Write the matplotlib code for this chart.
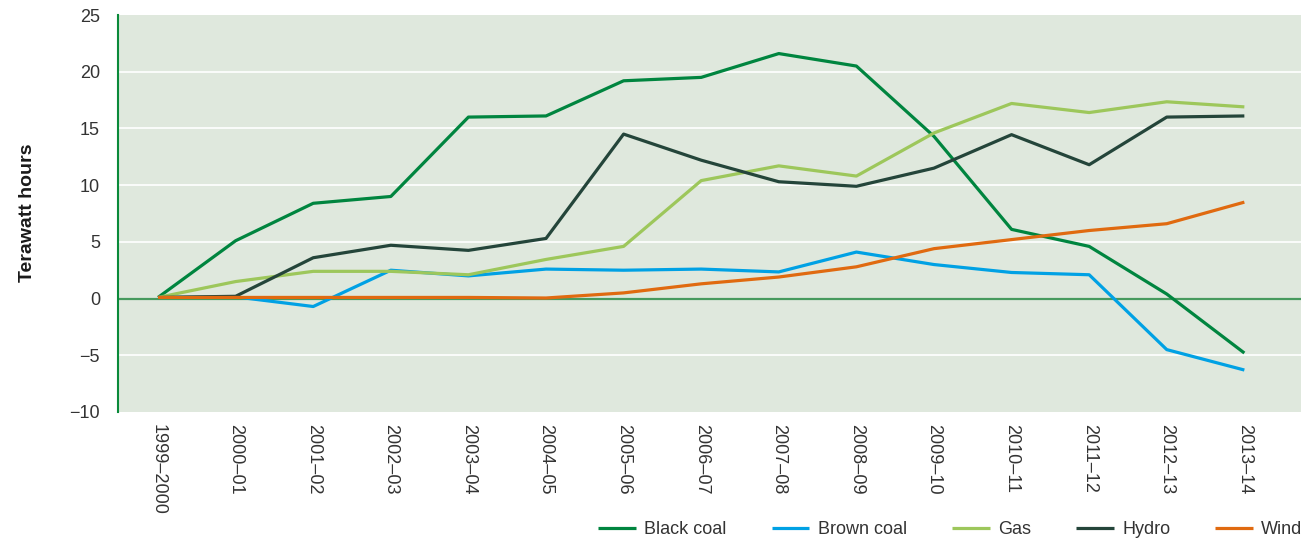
import matplotlib
matplotlib.use("Agg")
import matplotlib.pyplot as plt

years = ["1999–2000", "2000–01", "2001–02", "2002–03", "2003–04", "2004–05",
         "2005–06", "2006–07", "2007–08", "2008–09", "2009–10", "2010–11",
         "2011–12", "2012–13", "2013–14"]
black_coal = [0.1, 5.1, 8.4, 9.0, 16.0, 16.1, 19.2, 19.5, 21.6, 20.5, 14.3, 6.1, 4.6, 0.4, -4.8]
brown_coal = [0.1, 0.15, -0.7, 2.5, 2.0, 2.6, 2.5, 2.6, 2.35, 4.1, 3.0, 2.3, 2.1, -4.5, -6.3]
gas = [0.1, 1.5, 2.4, 2.4, 2.1, 3.45, 4.6, 10.4, 11.7, 10.8, 14.6, 17.2, 16.4, 17.35, 16.9]
hydro = [0.1, 0.2, 3.6, 4.7, 4.25, 5.3, 14.5, 12.2, 10.3, 9.9, 11.5, 14.45, 11.8, 16.0, 16.1]
wind = [0.1, 0.1, 0.1, 0.1, 0.1, 0.05, 0.5, 1.3, 1.9, 2.8, 4.4, 5.2, 6.0, 6.6, 8.5]
y_ticks = [-10, -5, 0, 5, 10, 15, 20, 25]

series = [("Black coal", black_coal, "#00853f"),
          ("Brown coal", brown_coal, "#00a1e4"),
          ("Gas", gas, "#9dc75b"),
          ("Hydro", hydro, "#24453a"),
          ("Wind", wind, "#e06a10")]

plt.rcParams['font.family'] = ['Liberation Sans', 'DejaVu Sans']

W, H = 1301, 542
fig = plt.figure(figsize=(W / 100, H / 100), dpi=100)
ax = fig.add_axes([118 / W, 1 - 412 / H, 1 - 118 / W, (412 - 15) / H])
ax.set_facecolor("#dfe8dd")

x = list(range(len(years)))
handles = []
for name, vals, col in series:
    h, = ax.plot(x, vals, color=col, lw=2.3, label=name, zorder=3, solid_capstyle='butt')
    handles.append(h)

ax.set_xlim(-0.516, 14.73)
ax.set_ylim(-10, 25)
ax.set_yticks(y_ticks)
ax.set_yticklabels([str(v).replace("-", "\u2212") for v in y_ticks])
ax.set_xticks(x)
ax.set_xticklabels(years, rotation=-90)
ax.tick_params(axis='both', length=0, labelsize=13, colors="#333333")
ax.tick_params(axis='y', pad=13)
ax.tick_params(axis='x', pad=9)

for v in y_ticks:
    if v not in (0, -10, 25):
        ax.axhline(v, color="white", lw=1.2, zorder=1)
ax.axhline(0, color="#479a5e", lw=1.6, zorder=2)

for s in ["top", "right", "bottom"]:
    ax.spines[s].set_visible(False)
ax.spines["left"].set_color("#0a8a3a")
ax.spines["left"].set_linewidth(1.5)

fig.text(28 / W, 1 - 213 / H, "Terawatt hours", rotation=90, ha="center", va="center",
         fontsize=14, fontweight="bold", color="#1a1a1a")

fig.legend(handles=handles, loc="center left", bbox_to_anchor=(598 / W, 1 - 530 / H),
           ncol=5, frameon=False, fontsize=13, handlelength=2.1, handletextpad=0.45,
           columnspacing=2.5, borderpad=0, borderaxespad=0, labelcolor="#333333")

fig.savefig("out.png", dpi=100)
